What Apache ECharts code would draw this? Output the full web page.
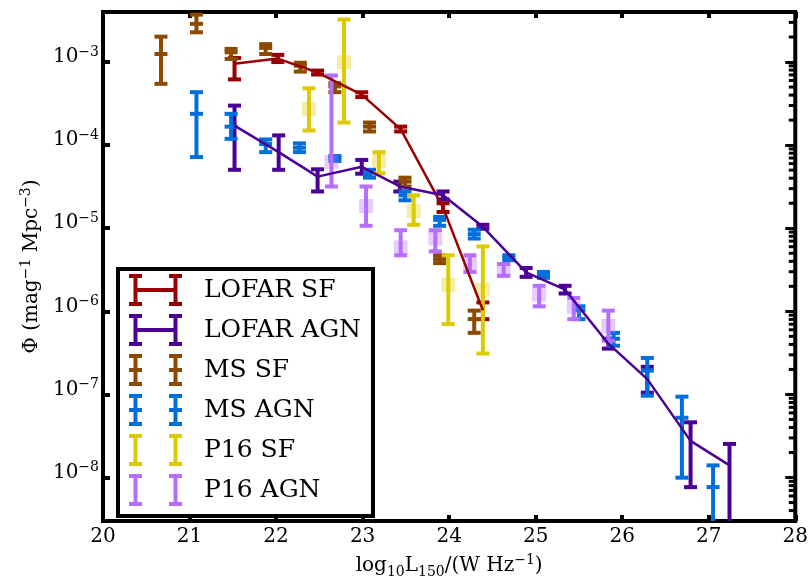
<!DOCTYPE html>
<html><head><meta charset="utf-8">
<script src="https://cdn.jsdelivr.net/npm/echarts@6/dist/echarts.min.js"></script>
<style>html,body{margin:0;padding:0;background:#fff}#c{width:811px;height:584px}</style>
</head><body><div id="c"></div>
<script>
// ---- tick labels ----
const xTickValues = [20, 21, 22, 23, 24, 25, 26, 27, 28];
const yTickExponents = [-3, -4, -5, -6, -7, -8];
// minor (log) tick positions drawn on the right-hand frame
const yMinorTickValues = [
  4e-9, 5e-9, 6e-9, 7e-9, 8e-9, 9e-9,
  2e-8, 3e-8, 4e-8, 5e-8, 6e-8, 7e-8, 8e-8, 9e-8,
  2e-7, 3e-7, 4e-7, 5e-7, 6e-7, 7e-7, 8e-7, 9e-7,
  2e-6, 3e-6, 4e-6, 5e-6, 6e-6, 7e-6, 8e-6, 9e-6,
  2e-5, 3e-5, 4e-5, 5e-5, 6e-5, 7e-5, 8e-5, 9e-5,
  2e-4, 3e-4, 4e-4, 5e-4, 6e-4, 7e-4, 8e-4, 9e-4,
  2e-3, 3e-3
];

// ---- LOFAR SF ----
const lofarSfX    = [21.52, 22.02, 22.48, 22.99, 23.44, 23.93, 24.39];
const lofarSfPhi  = [9.55e-4, 1.10e-3, 7.48e-4, 4.06e-4, 1.56e-4, 1.77e-5, 1.03e-6];
const lofarSfLow  = [6.18e-4, 1.00e-3, 7.08e-4, 3.79e-4, 1.46e-4, 1.57e-5, 8.05e-7];
const lofarSfHigh = [1.12e-3, 1.22e-3, 7.89e-4, 4.33e-4, 1.67e-4, 2.00e-5, 1.28e-6];

// ---- LOFAR AGN ----
const lofarAgnX    = [21.52, 22.03, 22.48, 22.99, 23.43, 23.93, 24.39, 24.89, 25.34, 25.84, 26.29, 26.79, 27.24];
const lofarAgnPhi  = [1.72e-4, 8.24e-5, 4.18e-5, 5.48e-5, 3.18e-5, 2.49e-5, 1.04e-5, 2.94e-6, 1.82e-6, 4.08e-7, 1.53e-7, 2.76e-8, 1.40e-8];
const lofarAgnLow  = [5.05e-5, 5.05e-5, 2.77e-5, 4.53e-5, 2.77e-5, 2.23e-5, 9.87e-6, 2.60e-6, 1.64e-6, 3.56e-7, 1.05e-7, 7.67e-9, 1.0e-9];
const lofarAgnHigh = [2.99e-4, 1.31e-4, 5.12e-5, 6.64e-5, 3.64e-5, 2.77e-5, 1.10e-5, 3.32e-6, 2.03e-6, 4.68e-7, 2.15e-7, 4.62e-8, 2.54e-8];

// ---- MS SF ----
const msSfX    = [20.67, 21.08, 21.48, 21.88, 22.28, 22.68, 23.08, 23.49, 23.89, 24.29];
const msSfPhi  = [1.25e-3, 2.88e-3, 1.31e-3, 1.48e-3, 9.04e-4, 5.09e-4, 1.67e-4, 3.64e-5, 4.25e-6, 8.07e-7];
const msSfLow  = [5.47e-4, 2.28e-3, 1.09e-3, 1.25e-3, 7.67e-4, 4.34e-4, 1.46e-4, 3.18e-5, 3.80e-6, 5.51e-7];
const msSfHigh = [2.02e-3, 3.72e-3, 1.44e-3, 1.64e-3, 9.81e-4, 5.55e-4, 1.87e-4, 4.06e-5, 4.73e-6, 1.02e-6];

// ---- MS AGN ----
const msAgnX    = [21.08, 21.48, 21.88, 22.27, 22.68, 23.08, 23.49, 23.89, 24.29, 24.69, 25.09, 25.50, 25.90, 26.29, 26.69, 27.05];
const msAgnPhi  = [2.38e-4, 1.67e-4, 1.03e-4, 9.31e-5, 7.0e-5, 4.53e-5, 2.49e-5, 1.26e-5, 8.49e-6, 4.48e-6, 2.75e-6, 1.03e-6, 4.68e-7, 1.93e-7, 5.24e-8, 7.67e-9];
const msAgnLow  = [7.19e-5, 1.19e-4, 8.24e-5, 8.24e-5, 6.46e-5, 4.06e-5, 2.17e-5, 1.07e-5, 7.52e-6, 4.13e-6, 2.53e-6, 8.05e-7, 3.86e-7, 9.66e-8, 9.96e-9, 1.0e-9];
const msAgnHigh = [4.34e-4, 2.38e-4, 1.17e-4, 1.05e-4, 7.39e-5, 5.05e-5, 2.77e-5, 1.37e-5, 9.6e-6, 4.73e-6, 2.98e-6, 1.15e-6, 5.51e-7, 2.75e-7, 9.4e-8, 1.40e-8];

// ---- P16 SF ----
const p16SfX    = [22.38, 22.785, 23.19, 23.59, 23.99, 24.39];
const p16SfPhi  = [2.73e-4, 9.95e-4, 6.46e-5, 1.61e-5, 2.09e-6, 1.82e-6];
const p16SfLow  = [1.50e-4, 1.87e-4, 4.59e-5, 1.10e-5, 7.03e-7, 3.11e-7];
const p16SfHigh = [4.83e-4, 3.25e-3, 8.24e-5, 2.49e-5, 4.73e-6, 6.04e-6];

// ---- P16 AGN ----
const p16AgnX    = [22.64, 23.04, 23.44, 23.84, 24.24, 24.63, 25.04, 25.44, 25.84];
const p16AgnPhi  = [6.28e-5, 1.85e-5, 5.89e-6, 7.52e-6, 3.80e-6, 3.15e-6, 1.59e-6, 1.12e-6, 6.67e-7];
const p16AgnLow  = [3.18e-5, 1.07e-5, 4.73e-6, 5.27e-6, 2.98e-6, 2.67e-6, 1.15e-6, 8.05e-7, 4.43e-7];
const p16AgnHigh = [6.89e-4, 3.18e-5, 9.46e-6, 9.46e-6, 4.73e-6, 3.71e-6, 2.03e-6, 1.45e-6, 1.02e-6];

const FONT = 'DejaVu Serif';
const C = {
  lofarSf: '#990000', lofarAgn: '#4b0096', msSf: '#8c4a00',
  msAgn: '#006fdc', p16Sf: '#dccb00', p16Agn: '#b66eff'
};
const X_MIN = xTickValues[0], X_MAX = xTickValues[xTickValues.length - 1];

function rows(x, p, lo, hi) { return x.map((v, i) => [v, p[i], lo[i], hi[i]]); }
function pts(x, p) { return x.map((v, i) => [v, p[i]]); }

function errRender(kind) {
  return function (params, api) {
    const x = api.value(0), y = api.value(1), lo = api.value(2), hi = api.value(3);
    const c = api.coord([x, y]), cl = api.coord([x, lo]), ch = api.coord([x, hi]);
    const color = api.visual('color');
    const hw = 6.5, lw = 4;
    const st = { stroke: color, lineWidth: lw };
    const ch2 = [
      { type: 'line', shape: { x1: c[0], y1: ch[1], x2: c[0], y2: cl[1] }, style: st },
      { type: 'line', shape: { x1: c[0] - hw, y1: ch[1], x2: c[0] + hw, y2: ch[1] }, style: st },
      { type: 'line', shape: { x1: c[0] - hw, y1: cl[1], x2: c[0] + hw, y2: cl[1] }, style: st }
    ];
    if (kind === 'ms') ch2.push({ type: 'line', shape: { x1: c[0] - hw, y1: c[1], x2: c[0] + hw, y2: c[1] }, style: st });
    if (kind === 'p16') ch2.push({ type: 'rect', shape: { x: c[0] - 7, y: c[1] - 7, width: 14, height: 14 }, style: { fill: color, opacity: 0.35 } });
    return { type: 'group', children: ch2 };
  };
}

function errSeries(name, color, kind, data) {
  return {
    name, type: 'custom', xAxisIndex: 0, yAxisIndex: 0, clip: true,
    itemStyle: { color }, renderItem: errRender(kind),
    encode: { x: 0, y: 1 }, data
  };
}

const iconLofar = 'path://M0,0H13V4H0Z M4.5,4H8.5V28H4.5Z M0,28H13V32H0Z M40,0H53V4H40Z M44.5,4H48.5V28H44.5Z M40,28H53V32H40Z M8.5,14H44.5V18H8.5Z';
const iconMs = 'path://M0,0H13V4H0Z M4.5,4H8.5V14H4.5Z M0,14H13V18H0Z M4.5,18H8.5V28H4.5Z M0,28H13V32H0Z M40,0H53V4H40Z M44.5,4H48.5V14H44.5Z M40,14H53V18H40Z M44.5,18H48.5V28H44.5Z M40,28H53V32H40Z';
const iconP16 = 'path://M0,0H13V4H0Z M4.5,4H8.5V28H4.5Z M0,28H13V32H0Z M40,0H53V4H40Z M44.5,4H48.5V28H44.5Z M40,28H53V32H40Z';

function yLabel(v) {
  const e = Math.log10(v), r = Math.round(e);
  if (Math.abs(e - r) > 1e-6 || yTickExponents.indexOf(r) < 0) return '';
  return '{b|10}{s|\u2212' + (-r) + '}';
}

const yCommon = {
  type: 'log', logBase: 10, min: 3e-9, max: 4e-3,
  axisLine: { show: false }, splitLine: { show: false }
};

const chart = echarts.init(document.getElementById('c'), null, { renderer: 'canvas' });
chart.setOption({
  animation: false,
  backgroundColor: '#fff',
  grid: { left: 103, right: 11.5, top: 12, bottom: 54, show: true, borderColor: '#000', borderWidth: 4, backgroundColor: 'transparent' },
  xAxis: [
    {
      type: 'value', min: X_MIN, max: X_MAX, interval: 1,
      position: 'bottom', axisLine: { show: false, onZero: false }, splitLine: { show: false },
      axisTick: { inside: true, length: 6, lineStyle: { color: '#000', width: 4 } },
      axisLabel: { margin: 6, color: '#000', fontFamily: FONT, fontSize: 20, formatter: v => String(v) },
      name: '{n|log}{sb|10}{n|L}{sb|150}{n|/(W Hz}{sp|\u22121}{n|)}',
      nameLocation: 'middle', nameGap: 32,
      nameTextStyle: {
        color: '#000', fontFamily: FONT, fontSize: 20,
        rich: {
          n: { fontFamily: FONT, fontSize: 20, lineHeight: 26, color: '#000' },
          sb: { fontFamily: FONT, fontSize: 14, lineHeight: 14, verticalAlign: 'bottom', color: '#000' },
          sp: { fontFamily: FONT, fontSize: 14, lineHeight: 14, verticalAlign: 'top', color: '#000' }
        }
      }
    },
    {
      type: 'value', min: X_MIN, max: X_MAX, interval: 1,
      position: 'top', axisLine: { show: false, onZero: false }, splitLine: { show: false },
      axisTick: { inside: true, length: 6, lineStyle: { color: '#000', width: 4 } },
      axisLabel: { show: false }
    }
  ],
  yAxis: [
    Object.assign({}, yCommon, {
      position: 'left',
      axisTick: { inside: true, length: 7, lineStyle: { color: '#000', width: 4 } },
      axisLabel: {
        margin: 4, color: '#000', formatter: yLabel, padding: [0, 0, 10, 0],
        rich: {
          b: { fontFamily: FONT, fontSize: 20, lineHeight: 24, color: '#000' },
          s: { fontFamily: FONT, fontSize: 14, lineHeight: 14, verticalAlign: 'top', color: '#000' }
        }
      },
      name: '{n|\u03A6 (mag}{sp|\u22121}{n| Mpc}{sp|\u22123}{n|)}',
      nameLocation: 'middle', nameGap: 58, nameRotate: 90,
      nameTextStyle: {
        color: '#000', fontFamily: FONT, fontSize: 20,
        rich: {
          n: { fontFamily: FONT, fontSize: 20, lineHeight: 26, color: '#000' },
          sp: { fontFamily: FONT, fontSize: 14, lineHeight: 14, verticalAlign: 'top', color: '#000' }
        }
      }
    }),
    Object.assign({}, yCommon, {
      position: 'right',
      axisTick: { inside: true, length: 10, lineStyle: { color: '#000', width: 3 } },
      minorTick: { show: false },
      axisLabel: { show: false }
    })
  ],
  legend: {
    orient: 'vertical', left: 118, top: 269,
    padding: [5, 12, 10, 11], itemGap: 8, itemWidth: 53, itemHeight: 32,
    borderColor: '#000', borderWidth: 4, backgroundColor: '#fff',
    selectedMode: false,
    itemStyle: { borderWidth: 0 },
    textStyle: { fontFamily: FONT, fontSize: 25, color: '#000', padding: [0, 0, 0, 17], width: 160 },
    data: [
      { name: 'LOFAR SF', icon: iconLofar },
      { name: 'LOFAR AGN', icon: iconLofar },
      { name: 'MS SF', icon: iconMs },
      { name: 'MS AGN', icon: iconMs },
      { name: 'P16 SF', icon: iconP16 },
      { name: 'P16 AGN', icon: iconP16 }
    ]
  },
  series: [
    {
      name: 'minor ticks', type: 'custom', xAxisIndex: 0, yAxisIndex: 1, clip: false, silent: true, z: 5,
      encode: { x: 0, y: 1 }, data: yMinorTickValues.map(v => [X_MAX, v]),
      renderItem: function (params, api) {
        const p = api.coord([api.value(0), api.value(1)]);
        return { type: 'line', shape: { x1: p[0] - 6.5, y1: p[1], x2: p[0], y2: p[1] }, style: { stroke: '#000', lineWidth: 3 } };
      }
    },
    { name: 'LOFAR SF line', type: 'line', data: pts(lofarSfX, lofarSfPhi), symbol: 'none', lineStyle: { color: C.lofarSf, width: 2.5 }, z: 2 },
    errSeries('LOFAR SF', C.lofarSf, 'lofar', rows(lofarSfX, lofarSfPhi, lofarSfLow, lofarSfHigh)),
    { name: 'LOFAR AGN line', type: 'line', data: pts(lofarAgnX, lofarAgnPhi), symbol: 'none', lineStyle: { color: C.lofarAgn, width: 2.5 }, z: 2 },
    errSeries('LOFAR AGN', C.lofarAgn, 'lofar', rows(lofarAgnX, lofarAgnPhi, lofarAgnLow, lofarAgnHigh)),
    errSeries('MS SF', C.msSf, 'ms', rows(msSfX, msSfPhi, msSfLow, msSfHigh)),
    errSeries('MS AGN', C.msAgn, 'ms', rows(msAgnX, msAgnPhi, msAgnLow, msAgnHigh)),
    errSeries('P16 SF', C.p16Sf, 'p16', rows(p16SfX, p16SfPhi, p16SfLow, p16SfHigh)),
    errSeries('P16 AGN', C.p16Agn, 'p16', rows(p16AgnX, p16AgnPhi, p16AgnLow, p16AgnHigh))
  ]
});
</script></body></html>
